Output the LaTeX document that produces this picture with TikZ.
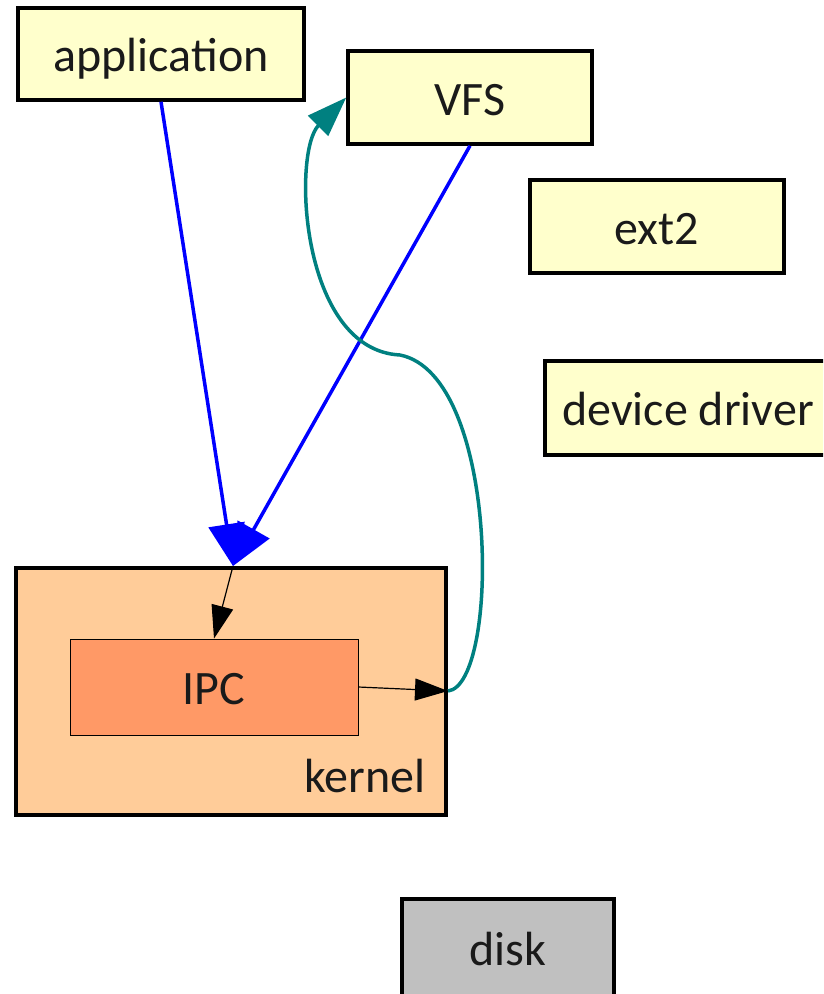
\documentclass[tikz,border=0pt]{standalone}
\usepackage{fontspec}
\setmainfont{Carlito}
\usetikzlibrary{arrows.meta}
\definecolor{boxyellow}{HTML}{FFFFCC}
\definecolor{kernelfill}{HTML}{FFCC99}
\definecolor{ipcfill}{HTML}{FF9966}
\definecolor{diskfill}{HTML}{C0C0C0}
\definecolor{tealline}{HTML}{008080}
\definecolor{textgray}{HTML}{1A1A1A}
\tikzset{
  labelfont/.style={font=\fontsize{48}{54}\selectfont},
  box/.style={draw=black, line width=3.5pt, inner sep=0pt, text=textgray, labelfont,
    text height=35pt, text depth=0pt},
  ybox/.style={box, fill=boxyellow},
  calltip/.style={-{Triangle[length=42pt,width=36pt]}, blue, line width=3.5pt},
  smalltip/.style={-{Triangle[length=33pt,width=22pt]}, black, line width=1.2pt},
  upcall/.style={-{Triangle[length=40pt,width=28pt]}, tealline, line width=3.5pt},
}
\begin{document}
\begin{tikzpicture}[x=1pt,y=-1pt]
  \useasboundingbox (0,0) rectangle (823,994);
  \clip (0,0) rectangle (823,994);

  % user-space servers
  \node[ybox, minimum width=286pt, minimum height=92pt] (app) at (161,54) {application};
  \node[ybox, minimum width=244pt, minimum height=93pt] (vfs) at (470,97.5) {VFS};
  \node[ybox, minimum width=254pt, minimum height=93pt] (ext) at (657,226.5) {ext2};
  \node[ybox, minimum width=286pt, minimum height=94pt] (drv) at (688,408) {device driver};

  % kernel with IPC inside
  \node[box, fill=kernelfill, minimum width=430pt, minimum height=247pt] (kernel) at (231,691.5) {};
  \node[box, line width=0.8pt, fill=ipcfill, minimum width=288pt, minimum height=96pt] (ipc) at (214,687) {IPC};
  \node[text=textgray, labelfont, inner sep=0pt, anchor=base] (klabel) at (365,792) {kernel};

  % hardware
  \node[box, fill=diskfill, minimum width=212pt, minimum height=98pt] (disk) at (508,948) {disk};

  % message flow
  \coordinate (entry) at (233,566);
  \coordinate (exit) at (448,691);
  \draw[calltip] (app.south) -- (entry);
  \draw[calltip] (vfs.south) -- (entry);
  \draw[smalltip] (entry) -- (ipc.north);
  \draw[smalltip] (ipc.east) -- (exit);
  \draw[upcall] (exit) .. controls (500,685) and (500,375) .. (400,355)
                       .. controls (300,350) and (292,152) .. (vfs.west);
\end{tikzpicture}
\end{document}
